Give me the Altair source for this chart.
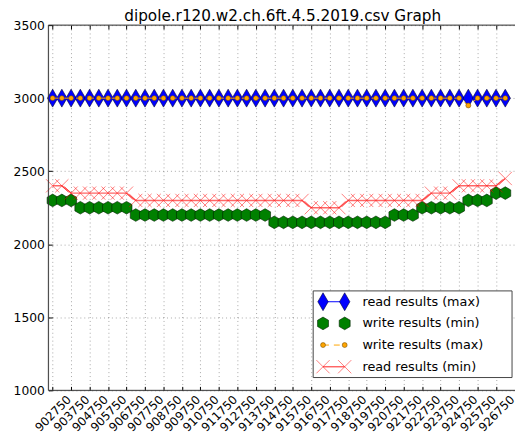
import altair as alt
import pandas as pd

# ---------------- data ----------------
x_positions = [
    902750, 903250, 903750, 904250, 904750, 905250, 905750, 906250, 906750, 907250,
    907750, 908250, 908750, 909250, 909750, 910250, 910750, 911250, 911750, 912250,
    912750, 913250, 913750, 914250, 914750, 915250, 915750, 916250, 916750, 917250,
    917750, 918250, 918750, 919250, 919750, 920250, 920750, 921250, 921750, 922250,
    922750, 923250, 923750, 924250, 924750, 925250, 925750, 926250, 926750, 927250,
]
x_tick_labels = [
    902750, 903750, 904750, 905750, 906750, 907750, 908750, 909750, 910750, 911750,
    912750, 913750, 914750, 915750, 916750, 917750, 918750, 919750, 920750, 921750,
    922750, 923750, 924750, 925750, 926750,
]
y_tick_values = [1000, 1500, 2000, 2500, 3000, 3500]

read_max = [
    3000, 3000, 3000, 3000, 3000, 3000, 3000, 3000, 3000, 3000,
    3000, 3000, 3000, 3000, 3000, 3000, 3000, 3000, 3000, 3000,
    3000, 3000, 3000, 3000, 3000, 3000, 3000, 3000, 3000, 3000,
    3000, 3000, 3000, 3000, 3000, 3000, 3000, 3000, 3000, 3000,
    3000, 3000, 3000, 3000, 3000, 3000, 3000, 3000, 3000, 3000,
]
write_min = [
    2300, 2300, 2300, 2250, 2250, 2250, 2250, 2250, 2250, 2200,
    2200, 2200, 2200, 2200, 2200, 2200, 2200, 2200, 2200, 2200,
    2200, 2200, 2200, 2200, 2150, 2150, 2150, 2150, 2150, 2150,
    2150, 2150, 2150, 2150, 2150, 2150, 2150, 2200, 2200, 2200,
    2250, 2250, 2250, 2250, 2250, 2300, 2300, 2300, 2350, 2350,
]
write_max = [
    3000, 3000, 3000, 3000, 3000, 3000, 3000, 3000, 3000, 3000,
    3000, 3000, 3000, 3000, 3000, 3000, 3000, 3000, 3000, 3000,
    3000, 3000, 3000, 3000, 3000, 3000, 3000, 3000, 3000, 3000,
    3000, 3000, 3000, 3000, 3000, 3000, 3000, 3000, 3000, 3000,
    3000, 3000, 3000, 3000, 3000, 2950, 3000, 3000, 3000, 3000,
]
read_min = [
    2400, 2400, 2350, 2350, 2350, 2350, 2350, 2350, 2350, 2300,
    2300, 2300, 2300, 2300, 2300, 2300, 2300, 2300, 2300, 2300,
    2300, 2300, 2300, 2300, 2300, 2300, 2300, 2300, 2250, 2250,
    2250, 2250, 2300, 2300, 2300, 2300, 2300, 2300, 2300, 2300,
    2300, 2350, 2350, 2350, 2400, 2400, 2400, 2400, 2400, 2450,
]
series_names = [
    "read results (max)",
    "write results (min)",
    "write results (max)",
    "read results (min)",
]
chart_title = ["dipole.r120.w2.ch.6ft.4.5.2019.csv Graph"]

# ---------------- layout / style ----------------
FONT = "DejaVu Sans"
W, H = 474, 371
XR = 478  # plot continues slightly beyond the visible page edge

DIAMOND = "M0,-1L0.58,0L0,1L-0.58,0Z"
HEXAGON = "M0,-1L0.866,-0.5L0.866,0.5L0,1L-0.866,0.5L-0.866,-0.5Z"
XMARK = "M-1,-1L1,1M-1,1L1,-1"

df = pd.DataFrame({
    "x": x_positions,
    "read_max": read_max,
    "write_min": write_min,
    "write_max": write_max,
    "read_min": read_min,
})
one = pd.DataFrame({"k": [0]})

x_scale = alt.Scale(domain=[902520, 927990], range=[0, XR], nice=False, zero=False)
y_scale = alt.Scale(domain=[1000, 3500], nice=False, zero=False)

grid_common = dict(grid=True, gridColor="#000000", gridOpacity=0.5,
                   gridWidth=0.7, gridDash=[1, 3])

x_axis_bottom = alt.Axis(
    values=x_tick_labels, format="d", title=None, orient="bottom",
    domain=False, ticks=True, tickSize=4, tickColor="#000000", offset=-4,
    labelAngle=315, labelAlign="center", labelBaseline="middle",
    labelPadding=23, labelFont=FONT, labelFontSize=12, labelColor="#000000",
    labelOverlap=False, labelFlush=False, labelBound=False, **grid_common)
x_axis_top = alt.Axis(
    values=x_tick_labels, title=None, orient="top", domain=False,
    ticks=True, tickSize=4, tickColor="#000000", offset=-4,
    labels=False, grid=False)
y_axis = alt.Axis(
    values=y_tick_values, format="d", title=None, orient="left", domain=False,
    ticks=True, tickSize=4, tickColor="#000000", offset=-4, labelPadding=4,
    labelFont=FONT, labelFontSize=12.5, labelColor="#000000",
    labelOverlap=False, labelFlush=False, **grid_common)


def X(axis=None):
    return alt.X("x:Q", scale=x_scale, axis=axis)


def Y(field):
    return alt.Y(f"{field}:Q", scale=y_scale, axis=y_axis)


base = alt.Chart(df)

blue_line = base.mark_line(color="#0000ff", strokeWidth=1).encode(
    x=X(x_axis_bottom), y=Y("read_max"))
blue_pts = base.mark_point(shape=DIAMOND, filled=True, fill="#0000ff",
                           stroke="#000033", strokeWidth=0.6, size=330,
                           opacity=1).encode(x=X(x_axis_top), y=Y("read_max"))
green_pts = base.mark_point(shape=HEXAGON, filled=True, fill="#008000",
                            stroke="#002000", strokeWidth=0.6, size=165,
                            opacity=1).encode(x=X(), y=Y("write_min"))
orange_line = base.mark_line(color="#ffa500", strokeWidth=1,
                             strokeDash=[6, 6]).encode(x=X(), y=Y("write_max"))
orange_pts = base.mark_point(shape="circle", filled=True, fill="#ffa500",
                             stroke="#7a5000", strokeWidth=0.6, size=25,
                             opacity=1).encode(x=X(), y=Y("write_max"))
red_line = base.mark_line(color="#ff0000", strokeWidth=1.5,
                          opacity=0.6).encode(x=X(), y=Y("read_min"))
red_pts = base.mark_point(shape=XMARK, filled=False, color="#ff0000",
                          strokeWidth=1, size=180, opacity=0.5).encode(
    x=X(), y=Y("read_min"))

# frame (left, top, bottom; right edge is beyond the page)
frame_color = "#333333"
frame = [
    alt.Chart(one).mark_rule(color=frame_color, strokeWidth=1).encode(
        x=alt.value(0), y=alt.value(0), y2=alt.value(H)),
    alt.Chart(one).mark_rule(color=frame_color, strokeWidth=1).encode(
        x=alt.value(0), x2=alt.value(XR), y=alt.value(0)),
    alt.Chart(one).mark_rule(color=frame_color, strokeWidth=1).encode(
        x=alt.value(0), x2=alt.value(XR), y=alt.value(H)),
]

# title as a text mark above the plot
title_layer = alt.Chart(pd.DataFrame({"t": chart_title})).mark_text(
    align="center", baseline="alphabetic", font=FONT, fontSize=15.5,
    color="#000000").encode(x=alt.value(238), y=alt.value(-4), text="t:N")

# legend
LX0, LX1, LY0, LY1 = 269, 471, 270, 358
M1, M2, TX = 279, 301, 319
ROWS = [281, 303, 325, 347]

legend = [
    alt.Chart(one).mark_rect(fill="white", stroke="#444444", strokeWidth=1).encode(
        x=alt.value(LX0), x2=alt.value(LX1), y=alt.value(LY0), y2=alt.value(LY1)),
]

styles = [
    dict(line=dict(color="#0000ff", strokeWidth=1),
         pt=dict(shape=DIAMOND, filled=True, fill="#0000ff", stroke="#000033",
                 strokeWidth=0.6, size=330, opacity=1)),
    dict(line=None,
         pt=dict(shape=HEXAGON, filled=True, fill="#008000", stroke="#002000",
                 strokeWidth=0.6, size=165, opacity=1)),
    dict(line=dict(color="#ffa500", strokeWidth=1, strokeDash=[6, 5]),
         pt=dict(shape="circle", filled=True, fill="#ffa500", stroke="#7a5000",
                 strokeWidth=0.6, size=25, opacity=1)),
    dict(line=dict(color="#ff0000", strokeWidth=1.5, opacity=0.6),
         pt=dict(shape=XMARK, filled=False, color="#ff0000", strokeWidth=1,
                 size=180, opacity=0.5)),
]

for name, st, ry in zip(series_names, styles, ROWS):
    if st["line"] is not None:
        legend.append(alt.Chart(one).mark_rule(**st["line"]).encode(
            x=alt.value(M1), x2=alt.value(M2), y=alt.value(ry)))
    for mx in (M1, M2):
        legend.append(alt.Chart(one).mark_point(**st["pt"]).encode(
            x=alt.value(mx), y=alt.value(ry)))
    legend.append(alt.Chart(pd.DataFrame({"label": [name]})).mark_text(
        align="left", baseline="middle", font=FONT, fontSize=13,
        color="#000000").encode(
        x=alt.value(TX), y=alt.value(ry), text="label:N"))

chart = alt.layer(
    blue_line, blue_pts, green_pts, orange_line, orange_pts, red_line, red_pts,
    *frame, title_layer, *legend,
).resolve_axis(x="independent").properties(
    width=W, height=H,
    autosize=alt.AutoSizeParams(type="none"),
    padding={"left": 41, "top": 14, "right": 0, "bottom": 43},
    background="white",
).configure_view(stroke=None).configure(font=FONT)

chart.save("out.html", embed_options={"renderer": "svg", "actions": False})
